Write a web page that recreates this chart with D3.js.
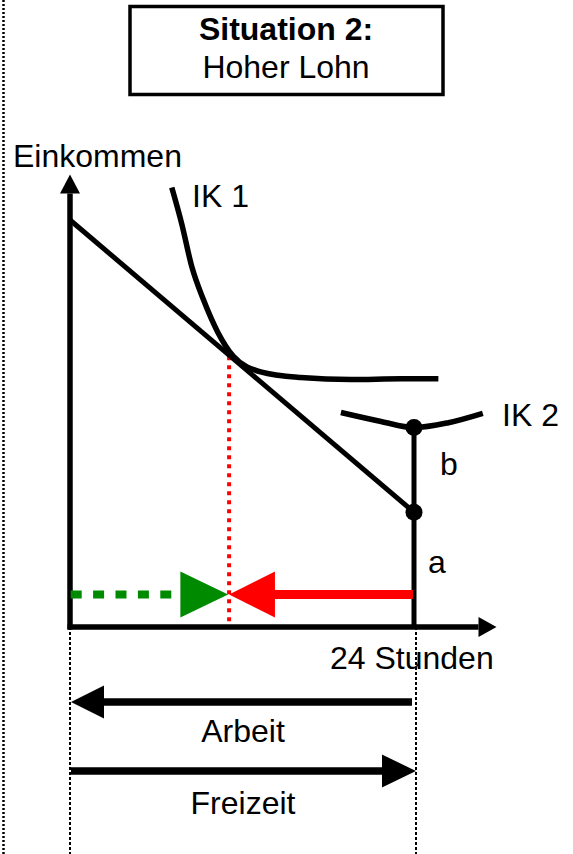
<!DOCTYPE html>
<html>
<head>
<meta charset="utf-8">
<script src="https://cdn.jsdelivr.net/npm/d3@7"></script>
<style>
  body { margin: 0; background: #fff; }
  text { font-family: "Liberation Sans", Arial, sans-serif; fill: #000; }
</style>
</head>
<body>
<svg id="chart" width="573" height="854"></svg>
<script>
(function(){
  'use strict';

  // hours of leisure (0..24) vs income
  var budgetLine = [[0, 100], [24, 28.2]];
  var ik1 = [[7.1,108],[7.8,99],[8.5,88.5],[9.3,80.5],[10.3,72.5],[11.4,66.5],
             [13.3,62.7],[16.1,61.3],[19.6,60.8],[23.1,61],[25.7,61]];
  var ik2 = [[18.9,52.7],[21.7,50.5],[24,49],[26.4,50.2],[28.8,52.5]];
  var dots = [[24, 49], [24, 28.2]];
  var optimum = [11.1, 66.5];
  var shiftLevel = 8;          // height of the green / red arrows
  var greenEnd = 7.7, redStart = 14.3;
  var axisEnd = [28.5, 106.5]; // where the arrow heads of the axes begin
  var titleLines = ['Situation 2:', 'Hoher Lohn'];
  var axisLabels = ['Einkommen', '24 Stunden'];
  var curveLabels = ['IK 1', 'IK 2'];
  var segLabels = ['b', 'a'];
  var bottomLabels = ['Arbeit', 'Freizeit'];

  var svg = d3.select('#chart');
  var x = d3.scaleLinear().domain([0, 24]).range([70, 414]);
  var y = d3.scaleLinear().domain([0, 100]).range([627, 220]);
  var line = d3.line().x(function(d){ return x(d[0]); }).y(function(d){ return y(d[1]); });
  var fs = 32;

  function tri(p){ return 'M' + p.map(function(q){ return q.join(','); }).join('L') + 'Z'; }

  // page border dotted line
  svg.append('line').attr('x1', 3.5).attr('x2', 3.5).attr('y1', 0).attr('y2', 854)
    .attr('stroke', '#000').attr('stroke-width', 2.5).attr('stroke-dasharray', '2,2');

  // title box
  svg.append('rect').attr('x', 130).attr('y', 6.5).attr('width', 313).attr('height', 88)
    .attr('fill', 'none').attr('stroke', '#000').attr('stroke-width', 3.5);
  svg.selectAll('.title').data(titleLines).enter().append('text')
    .attr('x', 286).attr('y', function(d, i){ return 40 + i * 38; })
    .attr('text-anchor', 'middle').style('font-size', fs + 'px')
    .style('font-weight', function(d, i){ return i === 0 ? 'bold' : 'normal'; })
    .text(function(d){ return d; });

  // dotted guides below the axis
  [0, 24].forEach(function(v, i){
    svg.append('line').attr('x1', x(v) + (i ? 2 : 0)).attr('x2', x(v) + (i ? 2 : 0))
      .attr('y1', y(0)).attr('y2', 854)
      .attr('stroke', '#000').attr('stroke-width', 2).attr('stroke-dasharray', '3,2');
  });

  // red dotted vertical at the optimum
  svg.append('line').attr('x1', x(optimum[0])).attr('x2', x(optimum[0]))
    .attr('y1', y(optimum[1])).attr('y2', y(0) - 4)
    .attr('stroke', '#ff0000').attr('stroke-width', 4).attr('stroke-dasharray', '4,5');

  // axes
  svg.append('line').attr('x1', x(0)).attr('x2', x(0)).attr('y1', y(0) + 2.5).attr('y2', y(axisEnd[1]))
    .attr('stroke', '#000').attr('stroke-width', 5.5);
  svg.append('path').attr('d', tri([[x(0) - 10, y(axisEnd[1])], [x(0), y(axisEnd[1]) - 19], [x(0) + 10, y(axisEnd[1])]]));
  svg.append('line').attr('x1', x(0) - 2.5).attr('x2', x(axisEnd[0])).attr('y1', y(0)).attr('y2', y(0))
    .attr('stroke', '#000').attr('stroke-width', 5.5);
  svg.append('path').attr('d', tri([[x(axisEnd[0]), y(0) - 10], [x(axisEnd[0]) + 18, y(0)], [x(axisEnd[0]), y(0) + 10]]));

  // vertical at 24 hours
  svg.append('line').attr('x1', x(24)).attr('x2', x(24)).attr('y1', y(dots[0][1])).attr('y2', y(0))
    .attr('stroke', '#000').attr('stroke-width', 5);

  // budget line and indifference curves
  svg.append('path').attr('d', line(budgetLine)).attr('fill', 'none').attr('stroke', '#000').attr('stroke-width', 5);
  line.curve(d3.curveMonotoneX);
  [ik1, ik2].forEach(function(c){
    svg.append('path').attr('d', line(c)).attr('fill', 'none').attr('stroke', '#000').attr('stroke-width', 5.5);
  });

  svg.selectAll('circle').data(dots).enter().append('circle')
    .attr('cx', function(d){ return x(d[0]); }).attr('cy', function(d){ return y(d[1]); })
    .attr('r', 8.5).attr('fill', '#000');

  // green dashed + arrow, red arrow
  var yS = y(shiftLevel);
  svg.append('line').attr('x1', x(0) + 0.7).attr('x2', x(greenEnd)).attr('y1', yS).attr('y2', yS)
    .attr('stroke', '#008a00').attr('stroke-width', 8).attr('stroke-dasharray', '11,11.4');
  svg.append('path').attr('fill', '#008a00')
    .attr('d', tri([[x(greenEnd), yS - 23], [x(optimum[0]) - 1, yS], [x(greenEnd), yS + 23]]));
  svg.append('line').attr('x1', x(redStart) - 1).attr('x2', x(24) - 1).attr('y1', yS).attr('y2', yS)
    .attr('stroke', '#ff0000').attr('stroke-width', 9);
  svg.append('path').attr('fill', '#ff0000')
    .attr('d', tri([[x(redStart), yS - 23], [x(optimum[0]), yS], [x(redStart), yS + 23]]));

  // labels
  svg.append('text').attr('x', 13).attr('y', 167).style('font-size', fs + 'px').text(axisLabels[0]);
  svg.append('text').attr('x', 330).attr('y', 669).style('font-size', fs + 'px').text(axisLabels[1]);
  svg.append('text').attr('x', 192).attr('y', 207).style('font-size', fs + 'px').text(curveLabels[0]);
  svg.append('text').attr('x', 502).attr('y', 426).style('font-size', fs + 'px').text(curveLabels[1]);
  svg.append('text').attr('x', 440).attr('y', 475).style('font-size', fs + 'px').text(segLabels[0]);
  svg.append('text').attr('x', 428).attr('y', 573).style('font-size', fs + 'px').text(segLabels[1]);

  // Arbeit / Freizeit arrows
  var yA = 702, yF = 771;
  svg.append('line').attr('x1', x(24) - 2).attr('x2', x(0) + 30).attr('y1', yA).attr('y2', yA)
    .attr('stroke', '#000').attr('stroke-width', 7.5);
  svg.append('path').attr('d', tri([[x(0) + 34, yA - 16.5], [x(0) + 1, yA], [x(0) + 34, yA + 16.5]]));
  svg.append('line').attr('x1', x(0) + 1).attr('x2', x(24) - 30).attr('y1', yF).attr('y2', yF)
    .attr('stroke', '#000').attr('stroke-width', 7.5);
  svg.append('path').attr('d', tri([[x(24) - 32, yF - 16.5], [x(24) + 2, yF], [x(24) - 32, yF + 16.5]]));
  svg.selectAll('.bl').data(bottomLabels).enter().append('text')
    .attr('x', 243).attr('y', function(d, i){ return i ? 814 : 742; })
    .attr('text-anchor', 'middle').style('font-size', fs + 'px')
    .text(function(d){ return d; });
})();
</script>
</body>
</html>
